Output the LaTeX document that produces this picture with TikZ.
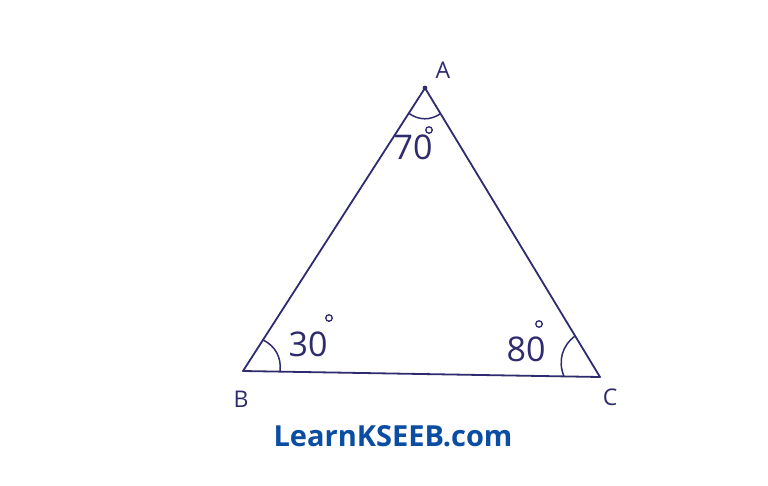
\documentclass[tikz,border=0pt]{standalone}
\usepackage{fontspec}
\setmainfont{Open Sans}
\usetikzlibrary{calc}
\definecolor{ink}{HTML}{2E2C6E}
\definecolor{wm}{HTML}{0B4DA2}
\tikzset{
  edge/.style={draw=ink, line width=1.8pt, line join=round},
  arcline/.style={draw=ink, line width=1.5pt},
  vlabel/.style={text=ink, font=\fontsize{23}{23}\selectfont, inner sep=0pt},
  alabel/.style={text=ink, font=\fontsize{34}{34}\selectfont, inner sep=0pt},
  degree/.style={draw=ink, line width=1.3pt, circle, minimum size=6.5pt, inner sep=0pt}
}
\begin{document}
\begin{tikzpicture}[x=1pt,y=-1pt]
\useasboundingbox[fill=white] (0,0) rectangle (768,485);
\coordinate (A) at (425,88);
\coordinate (B) at (243,371);
\coordinate (C) at (600,377);
\draw[edge] (A) -- (B) -- (C) -- cycle;
\fill[ink] (A) circle (2.4pt);
\fill[ink] (428,374) circle (1.3pt);
% angle arcs
\draw[arcline] ($(A)!30pt!(B)$) to[bend right=35] ($(A)!30pt!(C)$);
\draw[arcline] ($(B)!37pt!(A)$) to[bend left=35] ($(B)!37pt!(C)$);
\draw[arcline] ($(C)!48pt!(A)$) to[bend right=38] ($(C)!36pt!(B)$);
% vertex labels
\node[vlabel] (lA) at (443,70) {A};
\node[vlabel] (lB) at (241,399) {B};
\node[vlabel] (lC) at (610,397) {C};
% angle labels
\node[alabel] (a70) at (413,147) {70};
\node[degree] (d70) at (429,130) {};
\node[alabel] (a30) at (308,344) {30};
\node[degree] (d30) at (329,318) {};
\node[alabel] (a80) at (526,349) {80};
\node[degree] (d80) at (539,324) {};
% watermark
\node[text=wm, font=\fontsize{29}{29}\selectfont\bfseries, inner sep=0pt] (wmk) at (393,436) {LearnKSEEB.com};
\end{tikzpicture}
\end{document}
